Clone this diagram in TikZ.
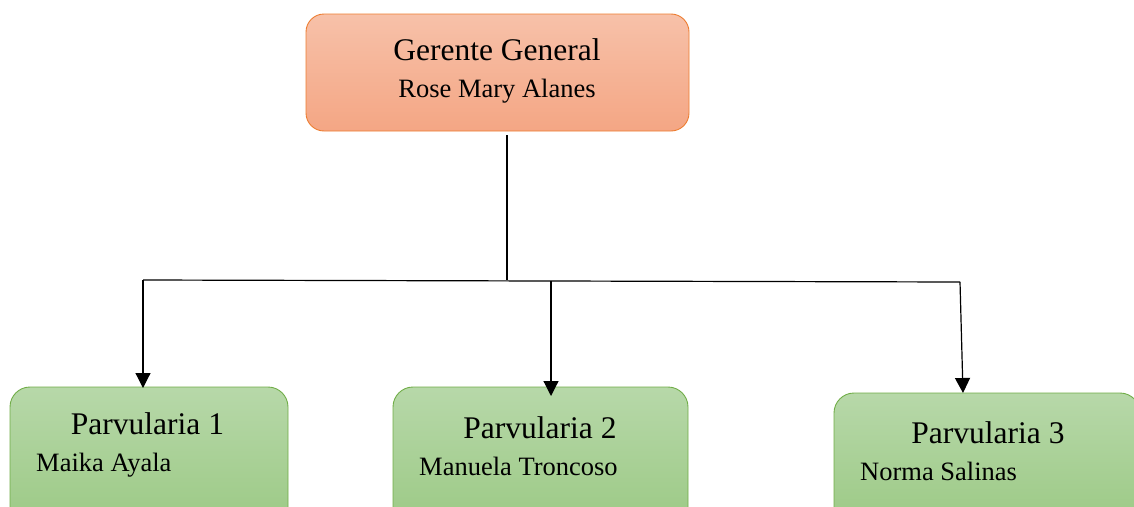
\documentclass[tikz,border=0pt]{standalone}
\usepackage{fontspec}
\setmainfont{Liberation Serif}
\usetikzlibrary{arrows.meta}
\definecolor{orangeB}{HTML}{ED7D31}
\definecolor{orangeT}{HTML}{F7C1A9}
\definecolor{orangeD}{HTML}{F4A684}
\definecolor{greenB}{HTML}{70AD47}
\definecolor{greenT}{HTML}{B7D8A9}
\definecolor{greenD}{HTML}{9BC984}
\begin{document}
\begin{tikzpicture}[x=1pt,y=-1pt,
  boss/.style={draw=orangeB, line width=0.9pt, rounded corners=18pt, top color=orangeT, bottom color=orangeD, inner sep=0pt, minimum width=383pt, minimum height=117pt},
  staff/.style={draw=greenB, line width=0.9pt, rounded corners=20pt, top color=greenT, bottom color=greenD, inner sep=0pt, minimum height=143pt},
  titletxt/.style={inner sep=0pt, font=\fontsize{31.5}{36}\selectfont},
  nametxt/.style={inner sep=0pt, font=\fontsize{26.5}{30}\selectfont},
  conn/.style={line width=1.2pt, black},
  arr/.style={conn, -{Triangle[width=15pt,length=15pt]}}
]
\useasboundingbox (0,0) rectangle (1134,506);
\clip (0,0) rectangle (1134,506);
% boxes
\node[boss] (g) at (497.5,72.5) {};
\node[staff, minimum width=278pt] (p1) at (149,458.5) {};
\node[staff, minimum width=295pt] (p2) at (540.5,458.5) {};
\node[staff, minimum width=306pt, minimum height=137pt] (p3) at (987,461.5) {};
% texts
\node[titletxt, anchor=base] (gt) at (497,60) {Gerente General};
\node[nametxt, anchor=base] (gn) at (497,97) {Rose Mary Alanes};
\node[titletxt, anchor=base] (p1t) at (147.5,434) {Parvularia 1};
\node[nametxt, anchor=base west] (p1n) at (36,471) {Maika Ayala};
\node[titletxt, anchor=base] (p2t) at (540,438) {Parvularia 2};
\node[nametxt, anchor=base west] (p2n) at (419,475) {Manuela Troncoso};
\node[titletxt, anchor=base] (p3t) at (988,443) {Parvularia 3};
\node[nametxt, anchor=base west] (p3n) at (860,480) {Norma Salinas};
% connectors
\coordinate (js) at (507,135);
\coordinate (jn) at (507,280);
\coordinate (l) at (143,280);
\coordinate (m) at (551,281);
\coordinate (r) at (960,282);
\coordinate (t1) at (143,388);
\coordinate (t2) at (551,396);
\coordinate (t3) at (963,393);
\draw[conn] (js) -- (jn);
\draw[conn] (l) -- (r);
\draw[arr] (l) -- (t1);
\draw[arr] (m) -- (t2);
\draw[arr] (r) -- (t3);
\end{tikzpicture}
\end{document}
